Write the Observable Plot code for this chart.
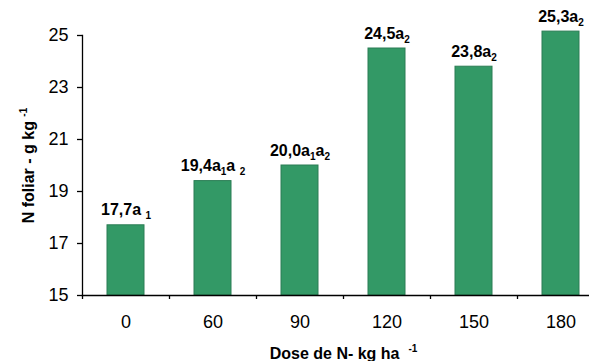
<!DOCTYPE html>
<html>
<head>
<meta charset="utf-8">
<script src="https://cdn.jsdelivr.net/npm/d3@7"></script>
<script src="https://cdn.jsdelivr.net/npm/@observablehq/plot@0.6"></script>
<style>
  html, body { margin: 0; padding: 0; background: #fff; }
  #chart { width: 589px; height: 361px; overflow: hidden; }
</style>
</head>
<body>
<div id="chart"></div>
<script>
// Data
const doses = ["0", "60", "90", "120", "150", "180"];
const nFoliar = [17.7, 19.4, 20.0, 24.5, 23.8, 25.15];
// "_" marks the next character as subscript
const barLabels = ["17,7a _1", "19,4a_1a _2", "20,0a_1a_2", "24,5a_2", "23,8a_2", "25,3a_2"];
const yTicks = [15, 17, 19, 21, 23, 25];
// "^" marks the rest as superscript
const yTitle = "N foliar - g kg ^-1";
const xTitle = "Dose de N- kg ha  ^-1";

const table = doses.map((d, i) => ({dose: d, n: nFoliar[i], label: barLabels[i]}));

const plot = Plot.plot({
  width: 589,
  height: 361,
  marginLeft: 82,
  marginRight: -15,
  marginTop: 35,
  marginBottom: 66,
  style: {fontFamily: "'Liberation Sans', Arial, sans-serif", fontSize: "18px", color: "#000", background: "#fff", overflow: "visible"},
  x: {type: "band", domain: doses, padding: 0, label: null},
  y: {domain: [15, 25], label: null},
  marks: [
    Plot.barY(table, {x: "dose", y1: 15, y2: "n", fill: "#339966", stroke: "#2b7d54", strokeWidth: 1, insetLeft: 25, insetRight: 25}),
    Plot.frame({anchor: "left", stroke: "#000", strokeWidth: 1.3}),
    Plot.frame({anchor: "bottom", stroke: "#000", strokeWidth: 1.3}),
    Plot.axisY(yTicks, {tickSize: 5, tickPadding: 9, fontSize: 18, label: null, strokeWidth: 1.3}),
    Plot.axisX({tickSize: 4, tickFormat: () => "", dx: -43.5, label: null, strokeWidth: 1.3}),
    Plot.axisX({tickSize: 0, tickPadding: 20, fontSize: 18, label: null}),
    Plot.text(table, {x: "dose", y: "n", text: "label", dy: -10, lineAnchor: "bottom", textAnchor: "middle", fontWeight: "bold", fontSize: 16, fill: "#000"}),
    Plot.text([xTitle], {frameAnchor: "bottom", dy: 63, lineAnchor: "bottom", textAnchor: "middle", fontWeight: "bold", fontSize: 16, fill: "#000"}),
    Plot.text([yTitle], {frameAnchor: "left", dx: -49, rotate: -90, lineAnchor: "bottom", textAnchor: "middle", fontWeight: "bold", fontSize: 16, fill: "#000"})
  ]
});

document.getElementById("chart").appendChild(plot);

// Turn "_x" into subscript and "^..." into superscript tspans
const NS = "http://www.w3.org/2000/svg";
d3.select(plot).selectAll("text").each(function() {
  const s = this.textContent;
  if (!/[_^]/.test(s)) return;
  this.textContent = "";
  const parts = [];
  let buf = "";
  for (let i = 0; i < s.length; i++) {
    const c = s[i];
    if (c === "_") {
      if (buf) parts.push({t: buf, k: "n"}); buf = "";
      parts.push({t: s[i + 1], k: "sub"}); i++;
    } else if (c === "^") {
      if (buf) parts.push({t: buf, k: "n"}); buf = "";
      parts.push({t: s.slice(i + 1), k: "sup"}); break;
    } else buf += c;
  }
  if (buf) parts.push({t: buf, k: "n"});
  let shift = 0;
  for (const p of parts) {
    const ts = document.createElementNS(NS, "tspan");
    ts.textContent = p.t;
    let target = 0;
    if (p.k === "sub") { ts.setAttribute("font-size", "10"); target = 4; }
    if (p.k === "sup") { ts.setAttribute("font-size", "10"); target = -7; }
    const d = target - shift;
    if (d !== 0) ts.setAttribute("dy", d);
    shift = target;
    this.appendChild(ts);
  }
});
</script>
</body>
</html>
